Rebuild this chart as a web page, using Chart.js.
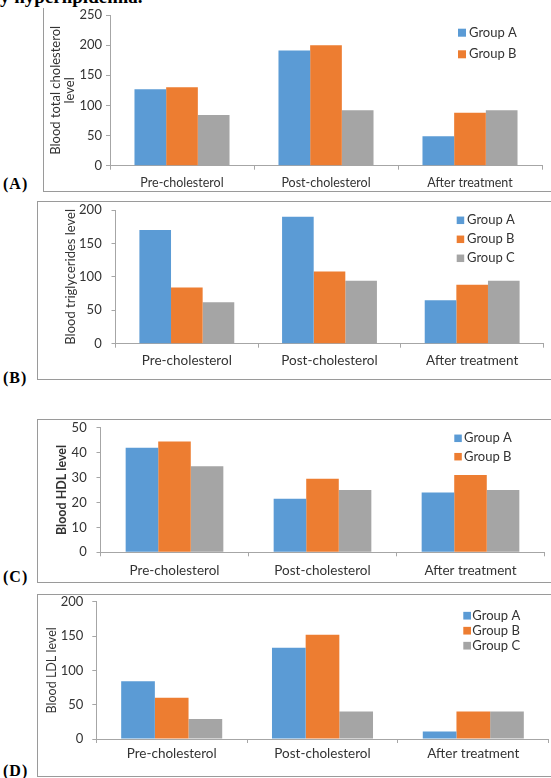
<!DOCTYPE html>
<html>
<head>
<meta charset="utf-8">
<script src="https://cdn.jsdelivr.net/npm/chart.js@4.4.0/dist/chart.umd.min.js"></script>
<style>
body { margin: 0; background: #fff; width: 551px; height: 778px; overflow: hidden; position: relative; }
.frame { position: absolute; border: 1px solid #9a9a9a; box-sizing: border-box; width: 530px; }
.tag { position: absolute; left: 3px; font-family: "Liberation Serif", serif; font-weight: bold; font-size: 16px; line-height: 16px; letter-spacing: 1px; }
.head { position: absolute; left: 0; top: -12px; font-family: "Liberation Serif", serif; font-weight: bold; font-size: 19px; line-height: 18px; white-space: nowrap; }
canvas { position: absolute; left: 0; }
</style>
</head>
<body>
<div class="frame" style="left:43px;top:8px;height:184px;border-top:none"></div>
<div class="frame" style="left:37px;top:201px;height:179px"></div>
<div class="frame" style="left:37px;top:419px;height:164px"></div>
<div class="frame" style="left:37px;top:594px;height:183px"></div>
<div class="head">y hyperlipidemia.</div>
<div class="tag" style="top:176px">(A)</div>
<div class="tag" style="top:370px">(B)</div>
<div class="tag" style="top:569px">(C)</div>
<div class="tag" style="top:763px">(D)</div>
<canvas id="chartA"></canvas>
<canvas id="chartB"></canvas>
<canvas id="chartC"></canvas>
<canvas id="chartD"></canvas>
<script>
// datos comunes
var categorias = ['Pre-cholesterol', 'Post-cholesterol', 'After treatment'];
var grupos = ['Group A', 'Group B', 'Group C'];
var colores = ['#5B9BD5', '#ED7D31', '#A5A5A5'];

// (A) colesterol total
var totalGrupoA = [127, 191, 49];
var totalGrupoB = [130, 200, 88];
var totalGrupoC = [84, 92, 92];
var ticksTotal = [0, 50, 100, 150, 200, 250];

// (B) trigliceridos
var trigGrupoA = [170, 190, 65];
var trigGrupoB = [84, 108, 88];
var trigGrupoC = [62, 94, 94];
var ticksTrig = [0, 50, 100, 150, 200];

// (C) HDL
var hdlGrupoA = [42, 21.5, 24];
var hdlGrupoB = [44.5, 29.5, 31];
var hdlGrupoC = [34.5, 25, 25];
var ticksHdl = [0, 10, 20, 30, 40, 50];

// (D) LDL
var ldlGrupoA = [84, 133, 11];
var ldlGrupoB = [60, 152, 40];
var ldlGrupoC = [29, 40, 40];
var ticksLdl = [0, 50, 100, 150, 200];

var ejeColor = '#a6a6a6';
var textoColor = '#333333';

// leyenda dibujada dentro del area, como en Excel
var leyendaPlugin = {
    id: 'leyenda',
    afterDraw: function (chart, args, o) {
        var ctx = chart.ctx;
        ctx.save();
        ctx.font = '13px Lato';
        ctx.textBaseline = 'middle';
        for (var i = 0; i < o.n; i++) {
            var ds = chart.data.datasets[i];
            var y = o.y + i * o.step;
            ctx.fillStyle = ds.backgroundColor;
            ctx.fillRect(o.x, y - o.box / 2, o.box, o.box);
            ctx.fillStyle = textoColor;
            ctx.fillText(ds.label, o.x + o.gap, y);
        }
        ctx.restore();
    }
};

function crearGrafico(id, series, yTicks, c) {
    var canvas = document.getElementById(id);
    canvas.style.top = c.top + 'px';
    canvas.width = 551;
    canvas.height = c.height;

    var datasets = series.map(function (vals, i) {
        return {
            label: grupos[i],
            data: vals,
            backgroundColor: colores[i],
            barPercentage: 1,
            categoryPercentage: c.cat
        };
    });

    var tituloLh = c.tituloFont * 1.05;

    return new Chart(canvas, {
        type: 'bar',
        data: { labels: categorias, datasets: datasets },
        options: {
            responsive: false,
            animation: false,
            layout: { padding: { left: 0, right: 551 - c.right, top: c.plotTop - c.top, bottom: 0 } },
            plugins: {
                legend: { display: false },
                tooltip: { enabled: false },
                leyenda: c.leyenda
            },
            scales: {
                x: {
                    grid: { offset: true, drawOnChartArea: false, drawTicks: true, tickLength: 4, color: ejeColor },
                    border: { color: ejeColor },
                    ticks: { color: textoColor, font: { family: 'Lato', size: c.xFont }, padding: c.xPad },
                    afterFit: function (s) {
                        s.height = c.top + c.height - c.plotBottom;
                        s.paddingLeft = 0;
                        s.paddingRight = 0;
                    }
                },
                y: {
                    min: yTicks[0],
                    max: yTicks[yTicks.length - 1],
                    afterBuildTicks: function (s) {
                        s.ticks = yTicks.map(function (v) { return { value: v }; });
                    },
                    grid: { drawOnChartArea: false, drawTicks: true, tickLength: 4, color: ejeColor },
                    border: { color: ejeColor },
                    ticks: { color: textoColor, font: { family: 'Lato', size: 13 }, padding: c.yPad },
                    title: {
                        display: true,
                        text: c.titulo,
                        color: textoColor,
                        font: { family: 'Lato', size: c.tituloFont, weight: c.negrita ? 'bold' : 'normal', lineHeight: 1.05 },
                        padding: { top: c.tituloX - tituloLh / 2, bottom: 0 }
                    },
                    afterFit: function (s) {
                        s.width = c.left;
                        s.paddingTop = 0;
                        s.paddingBottom = 0;
                    }
                }
            }
        },
        plugins: [leyendaPlugin]
    });
}

crearGrafico('chartA', [totalGrupoA, totalGrupoB, totalGrupoC], ticksTotal, {
    top: 0, height: 192, left: 110, right: 542, plotTop: 15, plotBottom: 165.7,
    cat: 0.66, xFont: 12.5, xPad: 5.5, yPad: 4,
    titulo: ['Blood total cholesterol', 'level'], tituloX: 56.2, tituloFont: 13, negrita: false,
    leyenda: { x: 458, y: 32.7, step: 21.6, n: 2, box: 8, gap: 11 }
});

crearGrafico('chartB', [trigGrupoA, trigGrupoB, trigGrupoC], ticksTrig, {
    top: 202, height: 177, left: 115.5, right: 543.5, plotTop: 210, plotBottom: 343.7,
    cat: 0.665, xFont: 13.5, xPad: 4.9, yPad: 9.8,
    titulo: 'Blood triglycerides level', tituloX: 70.7, tituloFont: 13, negrita: false,
    leyenda: { x: 456.7, y: 18.3, step: 19, n: 3, box: 7.5, gap: 10.3 }
});

crearGrafico('chartC', [hdlGrupoA, hdlGrupoB, hdlGrupoC], ticksHdl, {
    top: 420, height: 162, left: 100.5, right: 544.5, plotTop: 427.7, plotBottom: 552.3,
    cat: 0.66, xFont: 13.5, xPad: 6.3, yPad: 9.8,
    titulo: 'Blood HDL level', tituloX: 62.3, tituloFont: 12.5, negrita: true,
    leyenda: { x: 454.3, y: 18.3, step: 18.4, n: 2, box: 7.5, gap: 9.7 }
});

crearGrafico('chartD', [ldlGrupoA, ldlGrupoB, ldlGrupoC], ticksLdl, {
    top: 594, height: 182, left: 96.3, right: 548.7, plotTop: 601.7, plotBottom: 739,
    cat: 0.67, xFont: 13.5, xPad: 2.9, yPad: 9,
    titulo: 'Blood LDL level', tituloX: 51.7, tituloFont: 12.5, negrita: false,
    leyenda: { x: 463.3, y: 21.7, step: 15, n: 3, box: 7.7, gap: 9 }
});
</script>
</body>
</html>
